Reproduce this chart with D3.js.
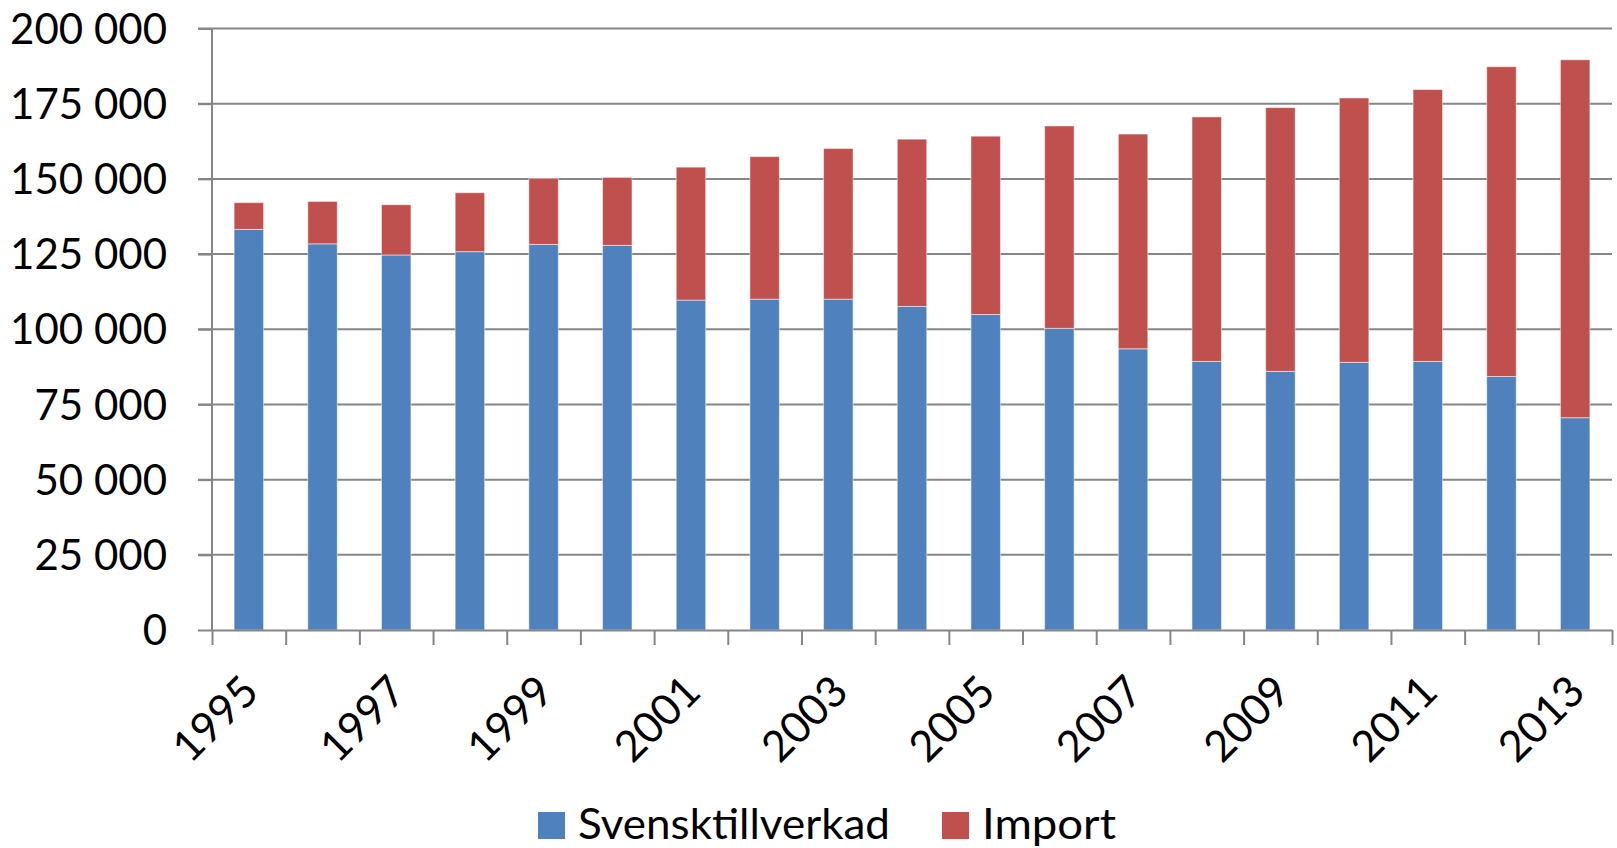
<!DOCTYPE html>
<meta charset="utf-8">
<style>
body { margin: 0; background: #fff; }
svg { display: block; }
.grid line { stroke: #868686; stroke-width: 2; }
.axis path, .axis line { stroke: #868686; stroke-width: 2; }
text { font-family: Lato, "Open Sans", sans-serif; fill: #000; }
</style>
<svg width="1617" height="848"></svg>
<script src="https://d3js.org/d3.v7.min.js"></script>
<script>

var years = [1995, 1996, 1997, 1998, 1999, 2000, 2001, 2002, 2003, 2004,
             2005, 2006, 2007, 2008, 2009, 2010, 2011, 2012, 2013];
var svensk = [133200, 128400, 124700, 125800, 128200, 127900, 109700, 110000, 110000, 107600,
              104900, 100300, 93500, 89300, 86000, 89000, 89300, 84300, 70600];
var importen = [8900, 14100, 16700, 19600, 22000, 22600, 44200, 47400, 50100, 55600,
                59300, 67300, 71400, 81300, 87700, 87900, 90400, 103000, 119000];
var yTicks = [0, 25000, 50000, 75000, 100000, 125000, 150000, 175000, 200000];
var seriesNames = ["Svensktillverkad", "Import"];
var colors = ["#4f81bd", "#c0504d"];

var svg = d3.select("svg"),
    margin = {top: 28.5, right: 5, bottom: 218, left: 212},
    width = +svg.attr("width") - margin.left - margin.right,
    height = +svg.attr("height") - margin.top - margin.bottom;

var g = svg.append("g")
    .attr("transform", "translate(" + margin.left + "," + margin.top + ")");

var x = d3.scaleBand().domain(years).range([0, width]).paddingInner(0.6).paddingOuter(0.3),
    xb = d3.scaleLinear().domain([0, years.length]).range([0, width]),
    y = d3.scaleLinear().domain([0, 200000]).range([height, 0]);

var fmt = function(d) { return d3.format(",")(d).replace(/,/g, " "); };

// gridlines
g.append("g")
    .attr("class", "grid")
  .selectAll("line")
  .data(yTicks.slice(1))
  .enter().append("line")
    .attr("x1", -14)
    .attr("x2", width)
    .attr("y1", function(d) { return y(d); })
    .attr("y2", function(d) { return y(d); });

var data = years.map(function(yr, i) {
  return {year: yr, Svensktillverkad: svensk[i], Import: importen[i]};
});
var stack = d3.stack().keys(seriesNames)(data);

g.selectAll(".serie")
  .data(stack)
  .enter().append("g")
    .attr("class", "serie")
    .attr("fill", function(d, i) { return colors[i]; })
  .selectAll("rect")
  .data(function(d) { return d; })
  .enter().append("rect")
    .attr("x", function(d) { return x(d.data.year); })
    .attr("y", function(d) { return y(d[1]); })
    .attr("width", x.bandwidth())
    .attr("height", function(d) { return y(d[0]) - y(d[1]); })
    .attr("stroke", "rgba(255,255,255,0.5)")
    .attr("stroke-width", 1);

// y axis
g.append("g")
    .attr("class", "axis axis--y")
    .call(d3.axisLeft(y).tickValues(yTicks).tickSize(14).tickPadding(31).tickFormat(fmt))
    .call(function(s) { s.select(".domain").attr("d", "M0," + height + "V0"); })
  .selectAll("text")
    .attr("font-size", 42)
    .attr("dy", "0.35em");

// x axis (ticks at category boundaries)
g.append("g")
    .attr("class", "axis axis--x")
    .attr("transform", "translate(0," + height + ")")
    .call(d3.axisBottom(xb).tickValues(d3.range(years.length + 1)).tickSize(15).tickSizeOuter(0).tickFormat(""));

g.selectAll(".xlabel")
  .data(years.filter(function(d, i) { return i % 2 === 0; }))
  .enter().append("text")
    .attr("class", "xlabel")
    .attr("font-size", 43)
    .attr("text-anchor", "end")
    .attr("transform", function(d) {
      return "translate(" + (x(d) + x.bandwidth() / 2 + 12) + "," + (height + 64) + ") rotate(-45)";
    })
    .text(function(d) { return d; });

// legend
var legend = svg.append("g").attr("transform", "translate(538,812)");
var lx = [0, 404],
    lw = [312, 134];
seriesNames.forEach(function(name, i) {
  legend.append("rect")
      .attr("x", lx[i])
      .attr("y", 0)
      .attr("width", 27)
      .attr("height", 27)
      .attr("fill", colors[i]);
  legend.append("text")
      .attr("x", lx[i] + 40)
      .attr("y", 27)
      .attr("font-size", 43)
      .attr("textLength", lw[i])
      .attr("lengthAdjust", "spacingAndGlyphs")
      .text(name);
});

</script>
